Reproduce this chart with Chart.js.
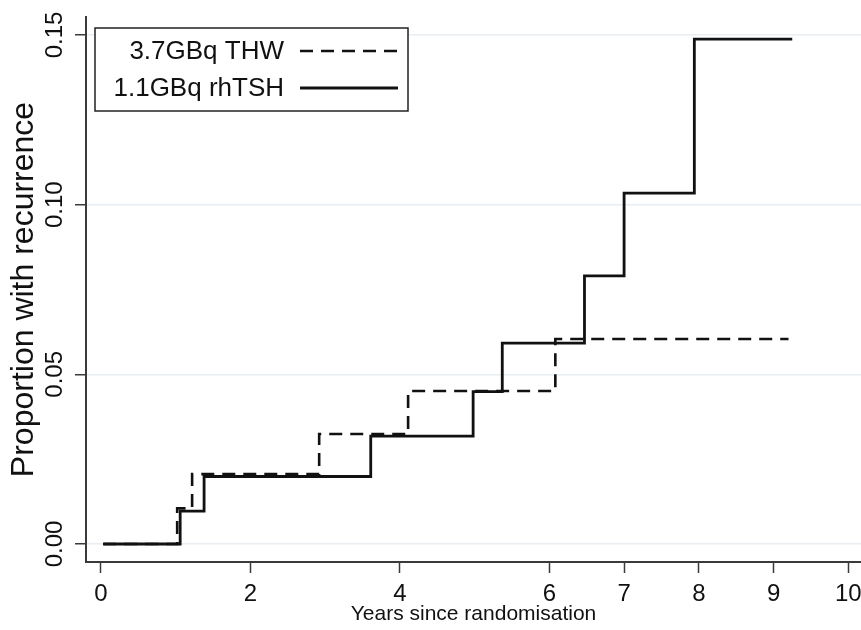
<!DOCTYPE html>
<html>
<head>
<meta charset="utf-8">
<script src="https://cdn.jsdelivr.net/npm/chart.js@4.4.0/dist/chart.umd.min.js"></script>
<style>
    html, body { margin: 0; padding: 0; background: #ffffff; }
    #wrap { position: relative; width: 861px; height: 630px; }
</style>
</head>
<body>
<div id="wrap"><canvas id="chart"></canvas></div>
<script>
// cumulative proportion with recurrence
const thwYears = [0.03, 1.02, 1.22, 2.92, 4.11, 6.08, 9.2];
const thwProp = [0, 0.0105, 0.0206, 0.0324, 0.0451, 0.0604, 0.0604];
const rhtshYears = [0.03, 1.06, 1.38, 3.61, 4.98, 5.37, 6.47, 7.0, 7.94, 9.25];
const rhtshProp = [0, 0.0097, 0.0199, 0.0318, 0.0449, 0.0592, 0.079, 0.1034, 0.1488, 0.1488];

const seriesLabels = ['3.7GBq THW', '1.1GBq rhTSH'];
const xTicks = [0, 2, 4, 6, 7, 8, 9, 10];
const yTicks = [0, 0.05, 0.10, 0.15];

const FONT = "'Liberation Sans', Arial, sans-serif";
const INK = '#111111';
const AXIS = '#3a3a3a';

function toPoints(xs, ys) {
    return xs.map((x, i) => ({ x: x, y: ys[i] }));
}

/// SUMMARY
///        legend box drawn inside the plot area, text left of the line sample
const insideLegend = {
    id: 'insideLegend',
    afterDraw(chart) {
        const ctx = chart.ctx;
        const box = { x: 95, y: 28, w: 313, h: 83 };
        ctx.save();
        ctx.fillStyle = '#ffffff';
        ctx.fillRect(box.x, box.y, box.w, box.h);
        ctx.strokeStyle = '#222222';
        ctx.lineWidth = 1.5;
        ctx.strokeRect(box.x, box.y, box.w, box.h);

        ctx.font = '26px ' + FONT;
        ctx.fillStyle = INK;
        ctx.textAlign = 'right';
        ctx.textBaseline = 'middle';
        chart.data.datasets.forEach((ds, i) => {
            const rowY = 51 + i * 37;
            ctx.fillText(ds.label, 284, rowY + 1);
            ctx.beginPath();
            ctx.strokeStyle = ds.borderColor;
            ctx.lineWidth = ds.borderWidth;
            ctx.setLineDash(ds.borderDash || []);
            ctx.moveTo(300, rowY);
            ctx.lineTo(398, rowY);
            ctx.stroke();
        });
        ctx.restore();
    }
};

const canvas = document.getElementById('chart');

const data = {
    datasets: [
        {
            label: seriesLabels[0],
            data: toPoints(thwYears, thwProp),
            borderColor: INK,
            borderWidth: 2.6,
            borderDash: [13, 8],
            stepped: 'before',
            pointRadius: 0,
            fill: false,
        },
        {
            label: seriesLabels[1],
            data: toPoints(rhtshYears, rhtshProp),
            borderColor: INK,
            borderWidth: 2.8,
            stepped: 'before',
            pointRadius: 0,
            fill: false,
        }
    ]
};

const config = {
    type: 'line',
    data: data,
    options: {
        responsive: true,
        maintainAspectRatio: false,
        animation: false,
        layout: {
            padding: { top: 17, right: 0, left: 0, bottom: 0 }
        },
        scales: {
            x: {
                type: 'linear',
                min: -0.2,
                max: 10.17,
                afterBuildTicks: (scale) => {
                    scale.ticks = xTicks.map(v => ({ value: v }));
                },
                afterFit: (scale) => {
                    scale.height = 68;
                    scale.paddingLeft = 0;
                    scale.paddingRight = 0;
                },
                grid: {
                    drawOnChartArea: false,
                    drawTicks: true,
                    tickLength: 11,
                    tickColor: AXIS,
                    tickWidth: 1.5,
                },
                border: { display: true, color: AXIS, width: 2 },
                ticks: {
                    color: INK,
                    font: { family: FONT, size: 24 },
                    padding: 7,
                    maxRotation: 0,
                    autoSkip: false,
                    callback: (v) => String(v),
                },
                title: {
                    display: true,
                    text: 'Years since randomisation',
                    color: INK,
                    font: { family: FONT, size: 21 },
                    padding: { top: 0, bottom: 3 },
                }
            },
            y: {
                type: 'linear',
                min: -0.0053,
                max: 0.1553,
                afterBuildTicks: (scale) => {
                    scale.ticks = yTicks.map(v => ({ value: v }));
                },
                afterFit: (scale) => {
                    scale.width = 86;
                    scale.paddingTop = 0;
                    scale.paddingBottom = 0;
                },
                grid: {
                    display: true,
                    color: '#e8eef2',
                    lineWidth: 1.5,
                    drawTicks: true,
                    tickLength: 11,
                    tickColor: AXIS,
                    tickWidth: 1.5,
                },
                border: { display: true, color: AXIS, width: 2 },
                ticks: {
                    color: INK,
                    font: { family: FONT, size: 24 },
                    minRotation: 90,
                    maxRotation: 90,
                    crossAlign: 'center',
                    padding: -4,
                    autoSkip: false,
                    callback: (v) => v.toFixed(2),
                },
                title: {
                    display: true,
                    text: 'Proportion with recurrence',
                    color: INK,
                    font: { family: FONT, size: 32 },
                    padding: { top: 5, bottom: 0 },
                }
            }
        },
        plugins: {
            legend: { display: false },
            tooltip: { enabled: false }
        }
    },
    plugins: [insideLegend]
};

const jsChart = new Chart(
    canvas,
    config
);
</script>
</body>
</html>
